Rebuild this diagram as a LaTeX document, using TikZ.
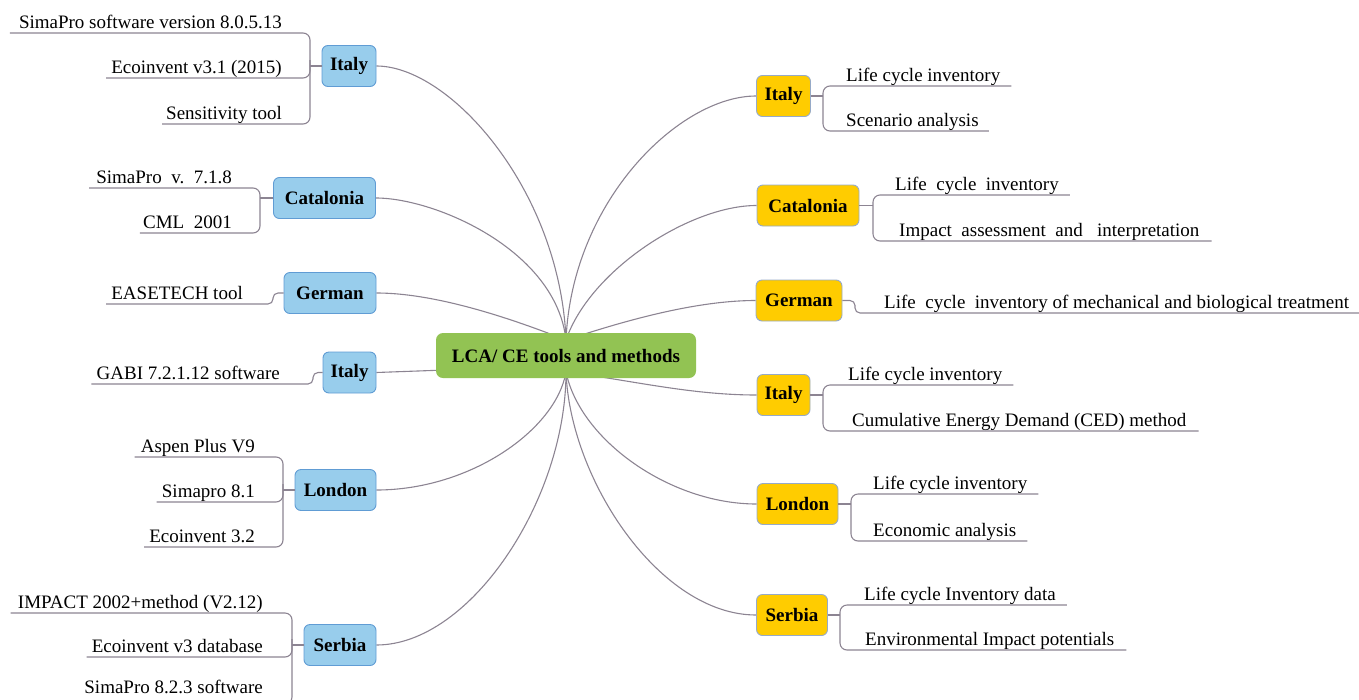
\documentclass[tikz,border=0pt]{standalone}
\usepackage{fontspec}
\setmainfont{Liberation Serif}
\usetikzlibrary{calc,backgrounds}
\definecolor{lc}{RGB}{140,132,146}
\definecolor{bfill}{RGB}{152,205,236}
\definecolor{bborder}{RGB}{96,156,212}
\definecolor{yfill}{RGB}{255,204,0}
\definecolor{yborder}{RGB}{150,170,200}
\definecolor{gfill}{RGB}{146,195,83}
\begin{document}
\begin{tikzpicture}[x=1pt,y=-1pt,
  every node/.style={font=\fontsize{19}{22}\selectfont},
  con/.style={draw=lc, line width=1.1pt},
  br/.style={draw=lc, line width=1.1pt, rounded corners=7pt},
  brs/.style={draw=lc, line width=1.1pt, rounded corners=5pt},
  lnode/.style={draw=bborder, fill=bfill, rounded corners=6pt, line width=0.9pt, minimum height=41pt, inner sep=0pt, font=\fontsize{19}{22}\selectfont\bfseries},
  rnode/.style={draw=yborder, fill=yfill, rounded corners=6pt, line width=0.9pt, minimum height=41pt, inner sep=0pt, font=\fontsize{19}{22}\selectfont\bfseries},
  cnode/.style={fill=gfill, rounded corners=7pt, inner sep=0pt, font=\fontsize{19}{22}\selectfont\bfseries},
  leafL/.style={anchor=base east, inner sep=0pt},
  leafR/.style={anchor=base west, inner sep=0pt}]
\useasboundingbox (0,0) rectangle (1359,699);

% centre
\node[cnode, minimum width=260pt, minimum height=45pt] (c) at (566,355.5) {LCA/ CE tools and methods};
\coordinate (ct) at (566,340);
\coordinate (cb) at (566,372);

% left branch nodes
\node[lnode, minimum width=54pt] (l1) at (349,66) {Italy};
\node[lnode, minimum width=102pt] (l2) at (324.5,198) {Catalonia};
\node[lnode, minimum width=92pt] (l3) at (330,293) {German};
\node[lnode, minimum width=53pt] (l4) at (349.5,372.5) {Italy};
\node[lnode, minimum width=81pt] (l5) at (335.5,490) {London};
\node[lnode, minimum width=72pt] (l6) at (340,645) {Serbia};

% right branch nodes
\node[rnode, minimum width=54pt] (r1) at (783.5,96) {Italy};
\node[rnode, minimum width=102pt] (r2) at (808,205.5) {Catalonia};
\node[rnode, minimum width=86pt] (r3) at (799,300.5) {German};
\node[rnode, minimum width=53pt] (r4) at (783.5,395) {Italy};
\node[rnode, minimum width=81pt] (r5) at (797.5,504) {London};
\node[rnode, minimum width=71pt] (r6) at (792,615) {Serbia};

% connectors from centre
\begin{scope}[on background layer]
\draw[con] (l1.east) .. controls (450,66) and (560,190) .. (ct);
\draw[con] (l2.east) .. controls (435,198) and (556,250) .. (ct);
\draw[con] (l3.east) .. controls (440,293) and (520,322) .. (ct);
\draw[con] (l4.east) -- ($(c.south west)+(4,-8)$);
\draw[con] (l5.east) .. controls (470,490) and (556,430) .. (cb);
\draw[con] (l6.east) .. controls (470,645) and (566,500) .. (cb);
\draw[con] (r1.west) .. controls (680,96) and (572,200) .. (ct);
\draw[con] (r2.west) .. controls (690,205.5) and (590,270) .. (ct);
\draw[con] (r3.west) .. controls (690,300.5) and (612,325) .. (ct);
\draw[con] (r4.west) .. controls (690,395) and (630,380) .. (cb);
\draw[con] (r5.west) .. controls (670,504) and (580,440) .. (cb);
\draw[con] (r6.west) .. controls (660,615) and (570,480) .. (cb);
\end{scope}

% ---- left leaves ----
% Italy 1
\node[leafL] (l1a) at (282,28) {SimaPro software version 8.0.5.13};
\node[leafL] (l1b) at (282,73) {Ecoinvent v3.1 (2015)};
\node[leafL] (l1c) at (282,119) {Sensitivity tool};
\draw[br] ($(l1a.base west)+(-9,5)$) -- (310,33) -- (310,124) -- ($(l1c.base west)+(-4,5)$);
\draw[br] ($(l1b.base west)+(-5,5)$) -- (310,78) -- (310,60);
\draw[con] (l1.west) -- (310,66);
% Catalonia
\node[leafL] (l2a) at (232,183) {SimaPro\ \ v.\ \ 7.1.8};
\node[leafL] (l2b) at (232,228) {CML\ \ 2001};
\draw[br] ($(l2a.base west)+(-7,5)$) -- (260,188) -- (260,233) -- ($(l2b.base west)+(-3,5)$);
\draw[con] (l2.west) -- (260,198);
% German
\node[leafL] (l3a) at (243,299) {EASETECH tool};
\draw[brs] ($(l3a.base west)+(-5,5)$) -- (273,304) -- (273,293) -- (l3.west);
% Italy 2
\node[leafL] (l4a) at (280,379) {GABI 7.2.1.12 software};
\draw[brs] ($(l4a.base west)+(-5,5)$) -- (313,384) -- (313,372.5) -- (l4.west);
% London
\node[leafL] (l5a) at (255,452) {Aspen Plus V9};
\node[leafL] (l5b) at (255,497) {Simapro 8.1};
\node[leafL] (l5c) at (255,542) {Ecoinvent 3.2};
\draw[br] ($(l5a.base west)+(-6,5)$) -- (283,457) -- (283,547) -- ($(l5c.base west)+(-5,5)$);
\draw[br] ($(l5b.base west)+(-5,5)$) -- (283,502) -- (283,484);
\draw[con] (l5.west) -- (283,490);
% Serbia
\node[leafL] (l6a) at (263,608) {IMPACT 2002+method (V2.12)};
\node[leafL] (l6b) at (263,652) {Ecoinvent v3 database};
\node[leafL] (l6c) at (263,693) {SimaPro 8.2.3 software};
\draw[br] ($(l6a.base west)+(-7,5)$) -- (292,613) -- (292,704) -- ($(l6c.base west)+(-5,11)$);
\draw[br] ($(l6b.base west)+(-5,5)$) -- (292,657) -- (292,639);
\draw[con] (l6.west) -- (292,645);

% ---- right leaves ----
% Italy 1
\node[leafR] (r1a) at (846,81) {Life cycle inventory};
\node[leafR] (r1b) at (846,126) {Scenario analysis};
\draw[br] ($(r1a.base east)+(11,5)$) -- (823,86) -- (823,131) -- ($(r1b.base east)+(10,5)$);
\draw[con] (r1.east) -- (823,96);
% Catalonia
\node[leafR] (r2a) at (895,190) {Life\ \ cycle\ \ inventory};
\node[leafR] (r2b) at (899,236) {Impact\ \ assessment\ \ and\ \ \ interpretation};
\draw[br] ($(r2a.base east)+(11,5)$) -- (873,195) -- (873,241) -- ($(r2b.base east)+(12,5)$);
\draw[con] (r2.east) -- (873,205.5);
% German
\node[leafR] (r3a) at (884,308) {Life\ \ cycle\ \ inventory of mechanical and biological treatment};
\draw[brs] (r3.east) -- (855,300.5) -- (855,313) -- (1362,313);
% Italy 2
\node[leafR] (r4a) at (848,380) {Life cycle inventory};
\node[leafR] (r4b) at (852,426) {Cumulative Energy Demand (CED) method};
\draw[br] ($(r4a.base east)+(11,5)$) -- (823,385) -- (823,431) -- ($(r4b.base east)+(12,5)$);
\draw[con] (r4.east) -- (823,395);
% London
\node[leafR] (r5a) at (873,489) {Life cycle inventory};
\node[leafR] (r5b) at (873,536) {Economic analysis};
\draw[br] ($(r5a.base east)+(11,5)$) -- (851,494) -- (851,541) -- ($(r5b.base east)+(11,5)$);
\draw[con] (r5.east) -- (851,504);
% Serbia
\node[leafR] (r6a) at (864,600) {Life cycle Inventory data};
\node[leafR] (r6b) at (865,645) {Environmental Impact potentials};
\draw[br] ($(r6a.base east)+(11,5)$) -- (840,605) -- (840,650) -- ($(r6b.base east)+(12,5)$);
\draw[con] (r6.east) -- (840,615);
\end{tikzpicture}
\end{document}
